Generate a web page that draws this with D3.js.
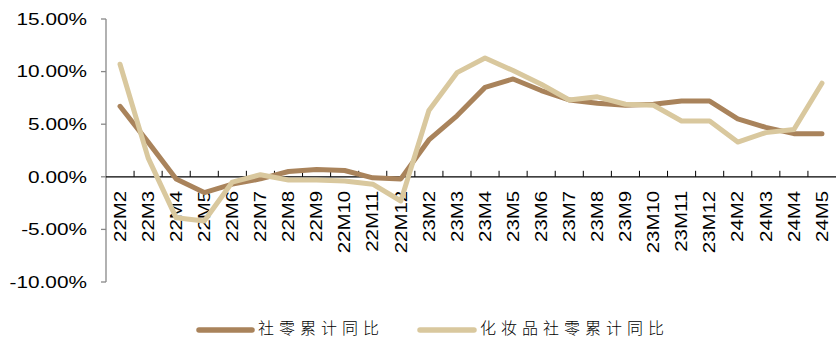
<!DOCTYPE html>
<html>
<head>
<meta charset="utf-8">
<script src="https://cdn.jsdelivr.net/npm/d3@7"></script>
<style>
  html, body { margin: 0; padding: 0; background: #fff; }
  svg { display: block; }
</style>
</head>
<body>
<svg id="chart" width="839" height="339"></svg>
<script>
const categories = ["22M2","22M3","22M4","22M5","22M6","22M7","22M8","22M9","22M10","22M11","22M12",
  "23M2","23M3","23M4","23M5","23M6","23M7","23M8","23M9","23M10","23M11","23M12",
  "24M2","24M3","24M4","24M5"];
const retailTotal = [6.7,3.3,-0.2,-1.5,-0.7,-0.2,0.5,0.7,0.6,-0.1,-0.2,
  3.5,5.8,8.5,9.3,8.2,7.3,7.0,6.8,6.9,7.2,7.2,
  5.5,4.7,4.1,4.1];
const cosmetics = [10.7,1.8,-3.9,-4.2,-0.5,0.2,-0.3,-0.3,-0.4,-0.7,-2.3,
  6.3,9.9,11.3,10.1,8.8,7.3,7.6,6.9,6.8,5.3,5.3,
  3.3,4.2,4.5,8.9];
const yTicks = [-10, -5, 0, 5, 10, 15];
const yTickLabels = ["-10.00%", "-5.00%", "0.00%", "5.00%", "10.00%", "15.00%"];
const seriesNames = ["社零累计同比", "化妆品社零累计同比"];
const seriesColors = ["#A9835B", "#D9C89E"];

const svg = d3.select("#chart");
const x = d3.scaleBand().domain(categories).range([106, 836]).padding(0);
const y = d3.scaleLinear().domain([-10, 15]).range([282, 19]);

// Y axis
const yAxis = svg.append("g").attr("transform", "translate(106,0)");
yAxis.append("line").attr("x1", 0).attr("x2", 0).attr("y1", y(15)).attr("y2", y(-10))
  .attr("stroke", "#888").attr("stroke-width", 1.3);
yTicks.forEach((t, i) => {
  yAxis.append("line").attr("x1", -5).attr("x2", 0).attr("y1", y(t)).attr("y2", y(t))
    .attr("stroke", "#888").attr("stroke-width", 1.3);
  yAxis.append("text")
    .attr("transform", `translate(-19,${y(t)}) scale(1.3,1)`)
    .attr("text-anchor", "end").attr("dy", "0.36em")
    .attr("font-family", "Liberation Sans, Arial, sans-serif").attr("font-size", 16)
    .attr("fill", "#000")
    .text(yTickLabels[i]);
});

// X axis at zero
const xAxis = svg.append("g").attr("transform", `translate(0,${y(0)})`);
xAxis.append("line").attr("x1", 106).attr("x2", 836).attr("y1", 0).attr("y2", 0)
  .attr("stroke", "#000").attr("stroke-width", 1.2);
categories.forEach((c, i) => {
  const bx = x(c) + x.bandwidth();
  if (i < categories.length - 1) {
    xAxis.append("line").attr("x1", bx).attr("x2", bx).attr("y1", -6).attr("y2", 0)
      .attr("stroke", "#000").attr("stroke-width", 1);
  }
  xAxis.append("text")
    .attr("transform", `translate(${x(c) + x.bandwidth() / 2},14) rotate(-90) scale(1.28,1)`)
    .attr("text-anchor", "end").attr("dy", "0.36em")
    .attr("font-family", "Liberation Sans, Arial, sans-serif").attr("font-size", 16)
    .attr("fill", "#000")
    .text(c);
});

// Lines
const line = d3.line()
  .x((d, i) => x(categories[i]) + x.bandwidth() / 2)
  .y(d => y(d));
[retailTotal, cosmetics].forEach((s, k) => {
  svg.append("path").datum(s)
    .attr("d", line)
    .attr("fill", "none")
    .attr("stroke", seriesColors[k])
    .attr("stroke-width", 5)
    .attr("stroke-linejoin", "round")
    .attr("stroke-linecap", "round");
});

// Legend
const legend = svg.append("g");
const legendItems = [{x1: 199, x2: 252, tx: 258}, {x1: 420, x2: 474, tx: 480}];
legendItems.forEach((it, k) => {
  legend.append("line").attr("x1", it.x1).attr("x2", it.x2).attr("y1", 330).attr("y2", 330)
    .attr("stroke", seriesColors[k]).attr("stroke-width", 5.5).attr("stroke-linecap", "round");
  legend.append("text").attr("x", it.tx).attr("y", 329).attr("dy", "0.34em")
    .attr("font-family", "Noto Sans CJK SC, sans-serif").attr("font-size", 16)
    .attr("font-weight", 300)
    .attr("letter-spacing", 5)
    .attr("fill", "#000")
    .text(seriesNames[k]);
});
</script>
</body>
</html>
